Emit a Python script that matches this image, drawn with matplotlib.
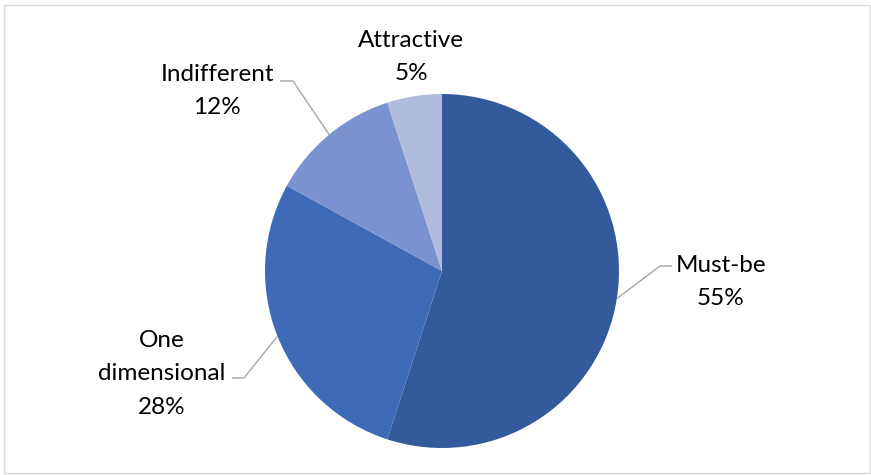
import matplotlib.pyplot as plt
import numpy as np
from matplotlib.patches import Rectangle

categories = ['Must-be', 'One\ndimensional', 'Indifferent', 'Attractive']
shares = [55, 28, 12, 5]
pct_labels = ['55%', '28%', '12%', '5%']
colors = ['#335A9A', '#3E6AB8', '#7A92CF', '#B0BBDE']

W, H = 871, 475
plt.rcParams['font.family'] = ['Lato', 'DejaVu Sans']

fig = plt.figure(figsize=(W / 100, H / 100), dpi=100)
ax = fig.add_axes([0, 0, 1, 1])

# светло-серая рамка вокруг области
fig.patches.append(Rectangle((3.5 / W, 2 / H), (W - 5) / W, (H - 6.5) / H,
                             transform=fig.transFigure, fill=False,
                             edgecolor='#D9D9D9', linewidth=1))

cx, cy, r = 442, H - 271, 177
wedges, _ = ax.pie(shares, colors=colors, startangle=90, counterclock=False,
                   center=(cx, cy), radius=r, frame=True,
                   wedgeprops=dict(linewidth=0))
ax.set_xlim(0, W)
ax.set_ylim(0, H)
ax.set_aspect('equal')
ax.axis('off')

# центры блоков подписей (пиксели от верхнего левого угла) и изломы выносок
label_pos = [(721, 282), (162, 374), (217, 91), (411, 57)]
elbows = [((660, 266), (672, 266)), ((244, 378), (232, 378)),
          ((293, 81), (280, 81)), None]

for w, name, pct, pos, elb in zip(wedges, categories, pct_labels, label_pos, elbows):
    ang = np.deg2rad((w.theta1 + w.theta2) / 2)
    ax.text(pos[0], H - pos[1], name + '\n' + pct, ha='center', va='center',
            fontsize=17.5, color='#000000', linespacing=1.76)
    if elb is not None:
        x0 = cx + r * np.cos(ang)
        y0 = cy + r * np.sin(ang)
        xs = [x0, elb[0][0], elb[1][0]]
        ys = [y0, H - elb[0][1], H - elb[1][1]]
        ax.plot(xs, ys, color='#A6A6A6', linewidth=1, solid_capstyle='butt')

fig.savefig('out.png', dpi=100)
